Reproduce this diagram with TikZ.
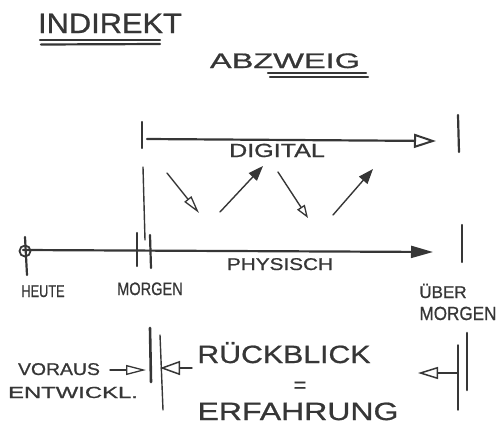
\documentclass[tikz,border=0pt]{standalone}
\usepackage{fontspec}
\setmainfont[FakeBold=0.8]{Liberation Sans}
\usetikzlibrary{arrows.meta}
\definecolor{ink}{HTML}{363636}
\newcommand{\wide}[2]{\scalebox{#1}[1]{#2}}

\begin{document}
\begin{tikzpicture}[x=1pt,y=-1pt,
  line cap=round,
  every node/.style={text=ink,inner sep=0pt},
  hand/.style={font=\fontsize{#1}{#1}\selectfont,anchor=base},
  pen/.style={draw=ink,line width=2.2pt},
  fine/.style={draw=ink,line width=1.4pt},
  bigopen/.style={-{Triangle[open,length=22pt,width=14pt,line width=2pt]}},
  bigfull/.style={-{Triangle[length=22pt,width=12pt]}},
  smallopen/.style={-{Triangle[open,length=#1,width=9pt,line width=1.3pt]}},
  smallfull/.style={-{Triangle[length=15pt,width=11pt]}}]
\useasboundingbox (0,0) rectangle (496,429);

% titles
\node[hand=28] (indirekt) at (110,33) {\wide{1.1}{INDIREKT}};
\draw[pen] (40,40) -- (160,40); \draw[pen] (41,44.5) -- (160,44);
\node[hand=21] (abzweig) at (285,68) {\wide{1.55}{ABZWEIG}};
\draw[pen] (268,73) -- (366,73); \draw[pen] (270,77) -- (368,77);

% digital level
\coordinate (dig-a) at (147,139); \coordinate (dig-b) at (436,141);
\draw[pen,bigopen] (dig-a) -- (dig-b);
\draw[pen] (142,122) -- (142,148); \draw[pen] (458,115) -- (459,152);
\node[hand=19] (digital) at (277,157) {\wide{1.32}{DIGITAL}};
\draw[fine] (143,167) -- (145,240);

% up and down
\coordinate (d1a) at (167,173); \coordinate (d1b) at (199,213);
\coordinate (u1a) at (220,212); \coordinate (u1b) at (263,166);
\coordinate (d2a) at (278,172); \coordinate (d2b) at (308,218);
\coordinate (u2a) at (333,215); \coordinate (u2b) at (373,169);
\draw[fine,smallopen=18pt] (d1a) -- (d1b);
\draw[fine,smallfull] (u1a) -- (u1b);
\draw[fine,smallopen=13pt] (d2a) -- (d2b);
\draw[fine,smallfull] (u2a) -- (u2b);

% physical level
\coordinate (phy-a) at (23,250); \coordinate (phy-b) at (433,252);
\draw[pen,bigfull] (phy-a) -- (phy-b);
\draw[fine,line width=1.8pt] (25,251) circle (5.5);
\draw[pen] (25,237) -- (27,275);
\draw[pen] (137,233) -- (137,266); \draw[pen] (150,235) -- (151,268);
\draw[pen] (462,225) -- (462,262);
\node[hand=17] (physisch) at (280,270) {\wide{1.22}{PHYSISCH}};
\node[hand=17] (heute) at (43,297) {\wide{0.75}{HEUTE}};
\node[hand=18] (morgen) at (150,295) {\wide{0.81}{MORGEN}};
\node[hand=17] (ueber) at (443,298) {ÜBER};
\node[hand=19] (uebermorgen) at (458,320) {\wide{0.9}{MORGEN}};

% look back
\draw[pen,line width=2.6pt] (150,328) -- (151,382);
\draw[fine] (160,335) -- (163,410);
\draw[pen,line width=2.6pt] (467,333) -- (467,390);
\draw[fine] (458,345) -- (458,410);
\node[hand=17] (voraus) at (59,375) {\wide{1.14}{VORAUS}};
\node[hand=16] (entwickl) at (73,398) {\wide{1.49}{ENTWICKL.}};
\coordinate (vor-a) at (110,370); \coordinate (vor-b) at (146,370);
\draw[fine,-{Triangle[open,length=20pt,width=10pt,line width=1.3pt]}] (vor-a) -- (vor-b);
\node[hand=25] (rueckblick) at (284,363) {\wide{1.21}{RÜCKBLICK}};
\node[font=\fontsize{22}{22}\selectfont] (gleich) at (300,387) {=};
\node[hand=25] (erfahrung) at (298,420) {\wide{1.28}{ERFAHRUNG}};
\coordinate (rb-a) at (192,368); \coordinate (rb-b) at (160,368);
\draw[fine,-{Triangle[open,length=20pt,width=14pt,line width=1.5pt]}] (rb-a) -- (rb-b);
\coordinate (rr-a) at (457,373); \coordinate (rr-b) at (418,373);
\draw[fine,-{Triangle[open,length=20pt,width=12pt,line width=1.5pt]}] (rr-a) -- (rr-b);
\end{tikzpicture}
\end{document}
